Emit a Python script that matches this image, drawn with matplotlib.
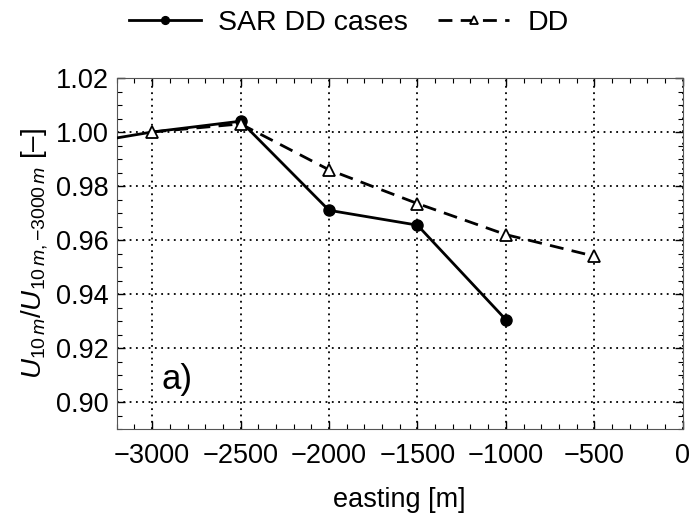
import matplotlib
matplotlib.use("Agg")
import matplotlib.pyplot as plt
from matplotlib.ticker import MultipleLocator, FormatStrFormatter

plt.rcParams['font.family'] = ['Liberation Sans', 'DejaVu Sans']
plt.rcParams['mathtext.fontset'] = 'custom'
plt.rcParams['mathtext.it'] = 'Liberation Sans:italic'
plt.rcParams['mathtext.rm'] = 'Liberation Sans'

# data
easting_sar = [-3500, -3000, -2500, -2000, -1500, -1000]
ratio_sar = [0.9945, 1.000, 1.004, 0.971, 0.9655, 0.9305]

easting_dd = [-3000, -2500, -2000, -1500, -1000, -500]
ratio_dd = [1.000, 1.003, 0.986, 0.9735, 0.962, 0.954]

fig = plt.figure(figsize=(6.91, 5.2), dpi=100)
ax = fig.add_axes([0.169, 0.175, 0.819, 0.675])

ax.plot(easting_sar, ratio_sar, '-', color='k', lw=2, marker='o', ms=8,
        markevery=[2, 3, 4, 5], label='SAR DD cases', zorder=3)
ax.plot(easting_dd, ratio_dd, '--', color='k', lw=2, marker='^', ms=8,
        mfc='white', mec='k', mew=1.3, dashes=(5, 3), label='DD', zorder=4)

ax.set_xlim(-3200, 0)
ax.set_ylim(0.89, 1.02)
ax.xaxis.set_major_locator(MultipleLocator(500))
ax.xaxis.set_minor_locator(MultipleLocator(100))
ax.yaxis.set_major_locator(MultipleLocator(0.02))
ax.yaxis.set_minor_locator(MultipleLocator(0.005))
ax.yaxis.set_major_formatter(FormatStrFormatter('%.2f'))
ax.tick_params(which='both', direction='in', top=True, right=True, labelsize=19.5)
ax.tick_params(axis='x', pad=10)
ax.tick_params(axis='y', pad=6)
ax.tick_params(which='major', length=6, width=1)
ax.tick_params(which='minor', length=3.5, width=0.8)
ax.grid(True, which='major', linestyle=(0, (1, 2.5)), color='k', lw=1.3)
for s in ax.spines.values():
    s.set_color('#555555')

ax.set_xlabel('easting [m]', fontsize=19.5, labelpad=13)
ax.set_ylabel(r'$U_{10\,m}/U_{10\,m,\mathrm{-}3000\,m}$ [–]', fontsize=20, labelpad=4)
ax.text(-2945, 0.905, 'a)', fontsize=25)

fig.legend(loc='upper center', bbox_to_anchor=(0.505, 1.03), ncol=2, frameon=False,
           fontsize=20.5, handlelength=2.5, handletextpad=0.63, columnspacing=1.05,
           markerscale=0.7)

fig.savefig('out.png', dpi=100)
